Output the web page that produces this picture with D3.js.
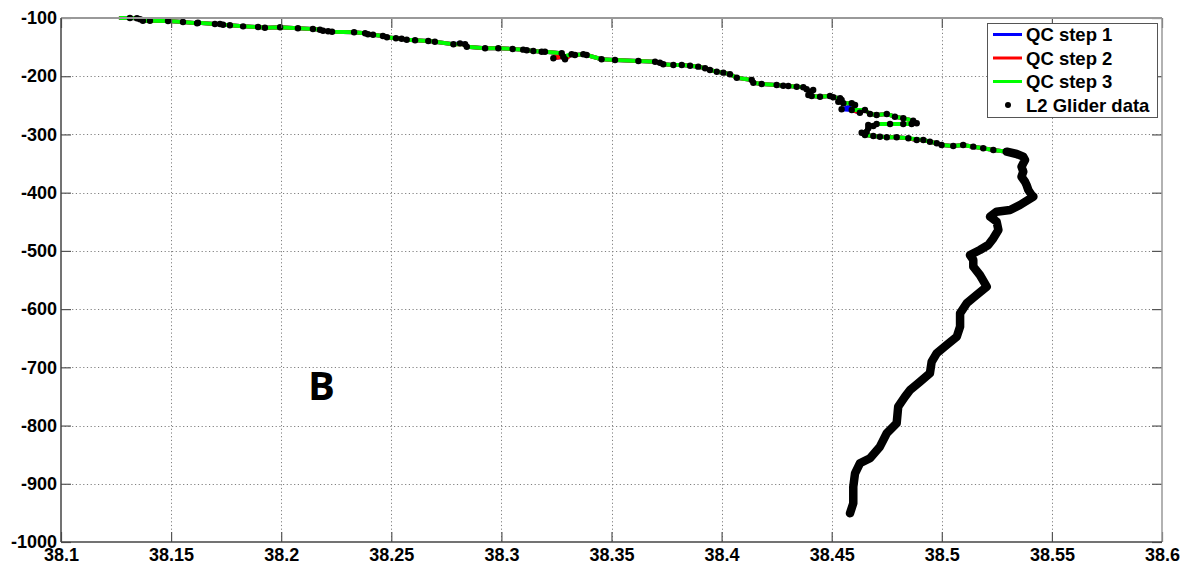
<!DOCTYPE html>
<html><head><meta charset="utf-8">
<script src="https://cdn.jsdelivr.net/npm/d3@7"></script>
<style>body{margin:0;background:#fff}svg{display:block}</style>
</head><body>
<script>
// ---- data ----
const salinity = [
38.1313,38.1345,38.1359,38.1372,38.1404,38.1486,38.1554,38.1618,38.1622,38.1699,
38.1722,38.1736,38.1767,38.1827,38.1895,38.1926,38.1995,38.2076,38.2144,38.2176,
38.2190,38.2213,38.2231,38.2331,38.2381,38.2394,38.2417,38.2462,38.2480,38.2521,
38.2547,38.2570,38.2608,38.2668,38.2698,38.2782,38.2812,38.2835,38.2843,38.2926,
38.2986,38.3051,38.3099,38.3115,38.3145,38.3183,38.3198,38.3274,38.3236,38.3281,
38.3289,38.3319,38.3334,38.3372,38.3387,38.3455,38.3516,38.3622,38.3698,38.3720,
38.3735,38.3781,38.3819,38.3857,38.3894,38.3925,38.3947,38.3978,38.4008,38.4038,
38.4069,38.4137,38.4144,38.4182,38.4250,38.4280,38.4303,38.4341,38.4371,38.4386,
38.4401,38.4416,38.4394,38.4409,38.4447,38.4492,38.4507,38.4538,38.4545,38.4530,
38.4553,38.4591,38.4606,38.4545,38.4591,38.4628,38.4651,38.4674,38.4704,38.4750,
38.4787,38.4825,38.4870,38.4886,38.4863,38.4825,38.4765,38.4704,38.4689,38.4666,
38.4666,38.4659,38.4636,38.4651,38.4689,38.4719,38.4750,38.4795,38.4848,38.4886,
38.4916,38.4946,38.4977,38.4999,38.5052,38.5097,38.5143,38.5188,38.5234,38.5295,
38.5340,38.5370,38.5378,38.5370,38.5362,38.5370,38.5362,38.5378,38.5385,38.5393,
38.5408,38.5416,38.5355,38.5310,38.5249,38.5219,38.5249,38.5257,38.5234,38.5211,
38.5173,38.5128,38.5143,38.5143,38.5173,38.5204,38.5158,38.5113,38.5083,38.5083,
38.5068,38.5022,38.4977,38.4954,38.4946,38.4901,38.4856,38.4833,38.4802,38.4795,
38.4750,38.4719,38.4674,38.4628,38.4606,38.4598,38.4598,38.4583
];
const depth = [
-100.0,-100.5,-102.2,-104.6,-104.6,-105.2,-106.9,-109.1,-108.1,-110.3,
-110.3,-111.5,-112.5,-114.3,-115.5,-116.7,-116.0,-117.7,-118.9,-120.1,
-121.8,-122.8,-123.5,-124.6,-126.3,-128.0,-128.7,-130.9,-133.1,-134.9,
-135.6,-137.3,-138.3,-139.5,-140.7,-145.2,-143.5,-145.2,-149.3,-152.0,
-152.0,-153.2,-154.4,-155.5,-156.7,-157.9,-157.9,-160.6,-169.2,-166.5,
-170.9,-162.3,-163.6,-162.3,-163.6,-170.9,-172.1,-173.9,-175.1,-176.8,
-179.5,-180.7,-180.7,-181.9,-183.6,-186.4,-189.3,-192.2,-193.9,-196.7,
-202.5,-206.5,-211.1,-213.4,-215.1,-216.3,-216.8,-218.0,-219.0,-222.5,
-226.6,-223.7,-232.3,-234.0,-235.2,-234.0,-236.2,-237.9,-240.8,-243.8,
-246.5,-246.5,-249.4,-256.8,-258.0,-262.7,-258.0,-264.9,-266.6,-264.9,
-269.5,-272.3,-276.4,-280.9,-282.1,-282.1,-282.1,-282.1,-285.5,-283.8,
-289.4,-295.3,-297.0,-301.0,-302.7,-303.9,-304.9,-304.9,-306.6,-309.5,
-309.5,-312.5,-315.2,-318.1,-319.8,-318.1,-321.0,-323.8,-326.7,-329.6,
-333.6,-338.2,-343.9,-349.6,-355.4,-364.0,-372.6,-381.2,-386.8,-395.4,
-404.0,-406.9,-421.2,-429.8,-432.7,-441.3,-449.9,-464.1,-478.4,-489.9,
-498.5,-507.1,-515.6,-527.1,-541.4,-561.5,-575.8,-590.0,-607.2,-630.2,
-647.4,-661.6,-675.9,-690.3,-710.2,-724.7,-738.9,-750.4,-767.6,-796.1,
-813.3,-836.3,-856.2,-864.8,-882.0,-905.0,-933.5,-950.7
];
// 0 = kept by every QC step, 1 = removed at QC step 2, 2 = removed at QC step 3
const qcFlag = salinity.map(() => 0);
const removedStep2 = [36, 93];
const removedStep3 = [48, 50, 95, 103, 119];
removedStep2.forEach(i => qcFlag[i] = 1);
removedStep3.forEach(i => qcFlag[i] = 2);
const qcStart = [38.127, -100];

const xTicks = [38.1,38.15,38.2,38.25,38.3,38.35,38.4,38.45,38.5,38.55,38.6];
const xTickLabels = ["38.1","38.15","38.2","38.25","38.3","38.35","38.4","38.45","38.5","38.55","38.6"];
const yTicks = [-1000,-900,-800,-700,-600,-500,-400,-300,-200,-100];
const yTickLabels = ["-1000","-900","-800","-700","-600","-500","-400","-300","-200","-100"];
const legendLabels = ["QC step 1","QC step 2","QC step 3","L2 Glider data"];
const seriesColors = ["#0000ff","#ff0000","#00ff00","#000000"];
const panelLabel = "B";

// ---- chart ----
const W = 1192, H = 567;
const mLeft = 61, mRight = 1162, mTop = 18, mBottom = 542;
const x = d3.scaleLinear([38.1, 38.6], [mLeft, mRight]);
const y = d3.scaleLinear([-1000, -100], [mBottom, mTop]);
const font = "'Liberation Sans', Arial, Helvetica, sans-serif";

const svg = d3.select("body").append("svg").attr("width", W).attr("height", H);

// grid
const grid = svg.append("g").attr("stroke", "#808080").attr("stroke-width", 1)
  .attr("stroke-dasharray", "1.2,2.5");
grid.selectAll(".gx").data(xTicks.slice(1, -1)).join("line").attr("class", "gx")
  .attr("x1", d => Math.round(x(d)) + 0.5).attr("x2", d => Math.round(x(d)) + 0.5)
  .attr("y1", mTop).attr("y2", mBottom);
grid.selectAll(".gy").data(yTicks.slice(1, -1)).join("line").attr("class", "gy")
  .attr("y1", d => Math.round(y(d)) + 0.5).attr("y2", d => Math.round(y(d)) + 0.5)
  .attr("x1", mLeft).attr("x2", mRight);

// data points
const pts = salinity.map((s, i) => ({ s, d: depth[i], f: qcFlag[i], i }));
const line = d3.line().x(p => x(p.s)).y(p => y(p.d));
const startPt = { s: qcStart[0], d: qcStart[1] };

const qcSeries = [
  pts,                         // step 1
  pts.filter(p => p.f !== 1),  // step 2
  pts.filter(p => p.f === 0)   // step 3
];
qcSeries.forEach((arr, k) => {
  svg.append("path").datum([startPt, ...arr]).attr("d", line)
    .attr("fill", "none").attr("stroke", seriesColors[k])
    .attr("stroke-width", 4).attr("stroke-linejoin", "round").attr("stroke-linecap", "round");
});

// dense deep trace (overlapping L2 markers)
svg.append("path").datum(pts.filter(p => p.d <= -329)).attr("d", line)
  .attr("fill", "none").attr("stroke", "#000").attr("stroke-width", 8.5)
  .attr("stroke-linejoin", "round").attr("stroke-linecap", "round");

svg.append("g").selectAll("circle").data(pts).join("circle")
  .attr("cx", p => x(p.s)).attr("cy", p => y(p.d)).attr("r", 3.2).attr("fill", "#000");

// axes
const xAxisB = d3.axisBottom(x).tickValues(xTicks).tickFormat((d, i) => xTickLabels[i])
  .tickSizeInner(-10).tickSizeOuter(0).tickPadding(6);
const xAxisT = d3.axisTop(x).tickValues(xTicks).tickFormat("").tickSizeInner(-10).tickSizeOuter(0);
const yAxisL = d3.axisLeft(y).tickValues(yTicks).tickFormat((d, i) => yTickLabels[i])
  .tickSizeInner(-10).tickSizeOuter(0).tickPadding(4);
const yAxisR = d3.axisRight(y).tickValues(yTicks).tickFormat("").tickSizeInner(-10).tickSizeOuter(0);

function styleAxis(g, col) {
  g.select(".domain").remove();
  g.selectAll(".tick line").attr("stroke", col).attr("stroke-width", 1.2);
  g.selectAll("text").attr("font-family", font).attr("font-weight", "bold")
    .attr("font-size", 18).attr("fill", "#000");
}
svg.append("g").attr("transform", `translate(0,${mBottom})`).call(xAxisB).call(g => styleAxis(g, "#555"));
svg.append("g").attr("transform", `translate(0,${mTop})`).call(xAxisT).call(g => styleAxis(g, "#555"));
svg.append("g").attr("transform", `translate(${mLeft},0)`).call(yAxisL).call(g => styleAxis(g, "#555"));
svg.append("g").attr("transform", `translate(${mRight},0)`).call(yAxisR).call(g => styleAxis(g, "#555"));

// box
svg.append("line").attr("x1", mLeft).attr("x2", mRight).attr("y1", mTop).attr("y2", mTop)
  .attr("stroke", "#999").attr("stroke-width", 2);
svg.append("line").attr("x1", mRight).attr("x2", mRight).attr("y1", mTop).attr("y2", mBottom)
  .attr("stroke", "#999").attr("stroke-width", 1.5);
svg.append("line").attr("x1", mLeft).attr("x2", mRight).attr("y1", mBottom).attr("y2", mBottom)
  .attr("stroke", "#444").attr("stroke-width", 1.5);
svg.append("line").attr("x1", mLeft).attr("x2", mLeft).attr("y1", mTop).attr("y2", mBottom)
  .attr("stroke", "#444").attr("stroke-width", 1.5);

// panel label
svg.append("text").attr("x", 308).attr("y", 400).text(panelLabel)
  .attr("font-family", "'Open Sans', 'Liberation Sans', sans-serif").attr("font-weight", "bold")
  .attr("font-size", 40).attr("fill", "#000");

// legend
const lg = svg.append("g");
lg.append("rect").attr("x", 987.5).attr("y", 23.5).attr("width", 170).attr("height", 94)
  .attr("fill", "#fff").attr("stroke", "#555").attr("stroke-width", 1);
const rowY = [34.5, 58, 81.5, 105];
legendLabels.forEach((lab, k) => {
  if (k < 3) {
    lg.append("line").attr("x1", 993).attr("x2", 1022).attr("y1", rowY[k]).attr("y2", rowY[k])
      .attr("stroke", seriesColors[k]).attr("stroke-width", 3);
  } else {
    lg.append("circle").attr("cx", 1008).attr("cy", rowY[k]).attr("r", 3).attr("fill", seriesColors[k]);
  }
  lg.append("text").attr("x", 1026).attr("y", rowY[k]).attr("dy", "0.36em").text(lab)
    .attr("font-family", font).attr("font-weight", "bold").attr("font-size", 18.5).attr("fill", "#000");
});
</script>
</body></html>
